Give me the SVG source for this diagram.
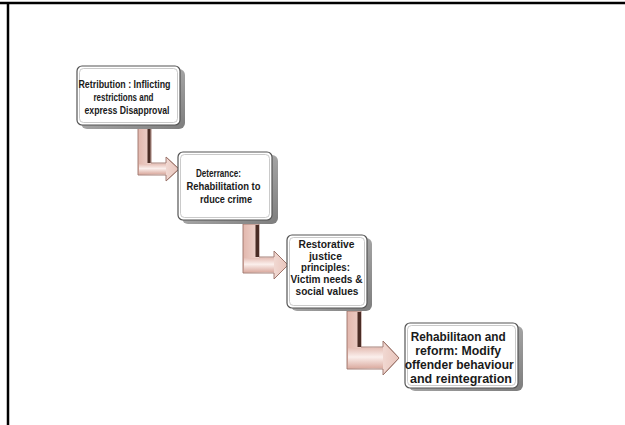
<svg xmlns="http://www.w3.org/2000/svg" width="625" height="425" viewBox="0 0 625 425">
  <defs>
    <linearGradient id="side" x1="0" y1="0" x2="1" y2="1">
      <stop offset="0" stop-color="#c8c8c8"/>
      <stop offset="1" stop-color="#7d7d7d"/>
    </linearGradient>
    <linearGradient id="arrowFace" x1="0" y1="0" x2="1" y2="0">
      <stop offset="0" stop-color="#e2b7ad"/>
      <stop offset="0.5" stop-color="#f6e4df"/>
      <stop offset="1" stop-color="#e8c4bb"/>
    </linearGradient>
    <linearGradient id="barFace" x1="0" y1="0" x2="0" y2="1">
      <stop offset="0" stop-color="#e6c0b7"/>
      <stop offset="0.45" stop-color="#fbefec"/>
      <stop offset="1" stop-color="#dcaea3"/>
    </linearGradient>
  </defs>
  <style>
    .frame { stroke: #000; stroke-width: 2.5; fill: none; }
    .side { fill: url(#side); }
    .face { fill: #fff; stroke: #555; stroke-width: 1.2; }
    .inner { fill: none; stroke: #bdbdbd; stroke-width: 0.8; }
    .label { font-family: "Liberation Sans", Arial, sans-serif; font-weight: bold; fill: #1a1a1a; text-anchor: middle; }
    .arrow { fill: url(#arrowFace); stroke: #9b7369; stroke-width: 0.9; stroke-linejoin: miter; }
    .bar { fill: url(#barFace); }
    .dark { fill: #4a2c25; }
  </style>

  <!-- page frame -->
  <line class="frame" x1="0" y1="3" x2="625" y2="3"/>
  <line class="frame" x1="8" y1="2" x2="8" y2="425"/>

  <!-- connectors: bent arrows between steps -->
  <g id="connectors">
    <g id="arrow-1-2">
      <path class="arrow" d="M138,128 H151 V163 H166 V157 L179,169 L166,181 V175 H138 Z"/>
      <rect class="bar" x="139" y="164" width="27" height="10"/>
      <path class="arrow" style="fill:none" d="M166,157 L179,169 L166,181"/>
      <rect class="dark" x="147.5" y="129" width="3" height="34"/>
    </g>
    <g id="arrow-2-3">
      <path class="arrow" d="M243,224 H259 V257 H274 V251 L288,265 L274,279 V273 H243 Z"/>
      <rect class="bar" x="244" y="258" width="30" height="14"/>
      <path class="arrow" style="fill:none" d="M274,251 L288,265 L274,279"/>
      <rect class="dark" x="255.5" y="225" width="3.5" height="32"/>
    </g>
    <g id="arrow-3-4">
      <path class="arrow" d="M347,311 H361 V347 H383 V341 L399,358 L383,375 V369 H347 Z"/>
      <rect class="bar" x="348" y="348" width="35" height="20"/>
      <path class="arrow" style="fill:none" d="M383,341 L399,358 L383,375"/>
      <rect class="dark" x="357.5" y="312" width="3.5" height="35"/>
    </g>
  </g>

  <!-- step 1 -->
  <g id="node-retribution">
    <rect class="side" x="81" y="69" width="104" height="60" rx="6"/>
    <rect class="face" x="77" y="66" width="103" height="59" rx="5"/>
    <rect class="inner" x="79.5" y="68.5" width="98" height="54" rx="4"/>
    <text class="label" font-size="11">
      <tspan x="126" y="88" textLength="92" lengthAdjust="spacingAndGlyphs">Retribution : Inflicting</tspan>
      <tspan x="125" y="101" textLength="60" lengthAdjust="spacingAndGlyphs">restrictions and</tspan>
      <tspan x="127" y="114" textLength="85" lengthAdjust="spacingAndGlyphs">express Disapproval</tspan>
    </text>
  </g>

  <!-- step 2 -->
  <g id="node-deterrance">
    <rect class="side" x="182" y="155" width="96" height="69" rx="6"/>
    <rect class="face" x="178" y="152" width="94" height="68" rx="5"/>
    <rect class="inner" x="180.5" y="154.5" width="89" height="63" rx="4"/>
    <text class="label" font-size="11">
      <tspan x="220" y="177" textLength="45" lengthAdjust="spacingAndGlyphs">Deterrance:</tspan>
      <tspan x="225" y="190" textLength="74" lengthAdjust="spacingAndGlyphs">Rehabilitation to</tspan>
      <tspan x="226" y="203" textLength="52" lengthAdjust="spacingAndGlyphs">rduce crime</tspan>
    </text>
  </g>

  <!-- step 3 -->
  <g id="node-restorative">
    <rect class="side" x="291" y="238" width="81" height="73" rx="6"/>
    <rect class="face" x="287" y="235" width="80" height="73" rx="5"/>
    <rect class="inner" x="289.5" y="237.5" width="75" height="68" rx="4"/>
    <text class="label" font-size="11">
      <tspan x="328" y="248" textLength="56" lengthAdjust="spacingAndGlyphs">Restorative</tspan>
      <tspan x="327" y="260" textLength="33" lengthAdjust="spacingAndGlyphs">justice</tspan>
      <tspan x="327" y="271" textLength="49" lengthAdjust="spacingAndGlyphs">principles:</tspan>
      <tspan x="328" y="283" textLength="72" lengthAdjust="spacingAndGlyphs">Victim needs &amp;</tspan>
      <tspan x="327" y="295" textLength="63" lengthAdjust="spacingAndGlyphs">social values</tspan>
    </text>
  </g>

  <!-- step 4 -->
  <g id="node-rehabilitation">
    <rect class="side" x="409" y="326" width="114" height="65" rx="6"/>
    <rect class="face" x="405" y="323" width="113" height="65" rx="5"/>
    <rect class="inner" x="407.5" y="325.5" width="108" height="60" rx="4"/>
    <text class="label" font-size="13">
      <tspan x="460" y="341" textLength="95" lengthAdjust="spacingAndGlyphs">Rehabilitaon and</tspan>
      <tspan x="460" y="355" textLength="86" lengthAdjust="spacingAndGlyphs">reform: Modify</tspan>
      <tspan x="461" y="369" textLength="109" lengthAdjust="spacingAndGlyphs">offender behaviour</tspan>
      <tspan x="461" y="383" textLength="102" lengthAdjust="spacingAndGlyphs">and reintegration</tspan>
    </text>
  </g>
</svg>
